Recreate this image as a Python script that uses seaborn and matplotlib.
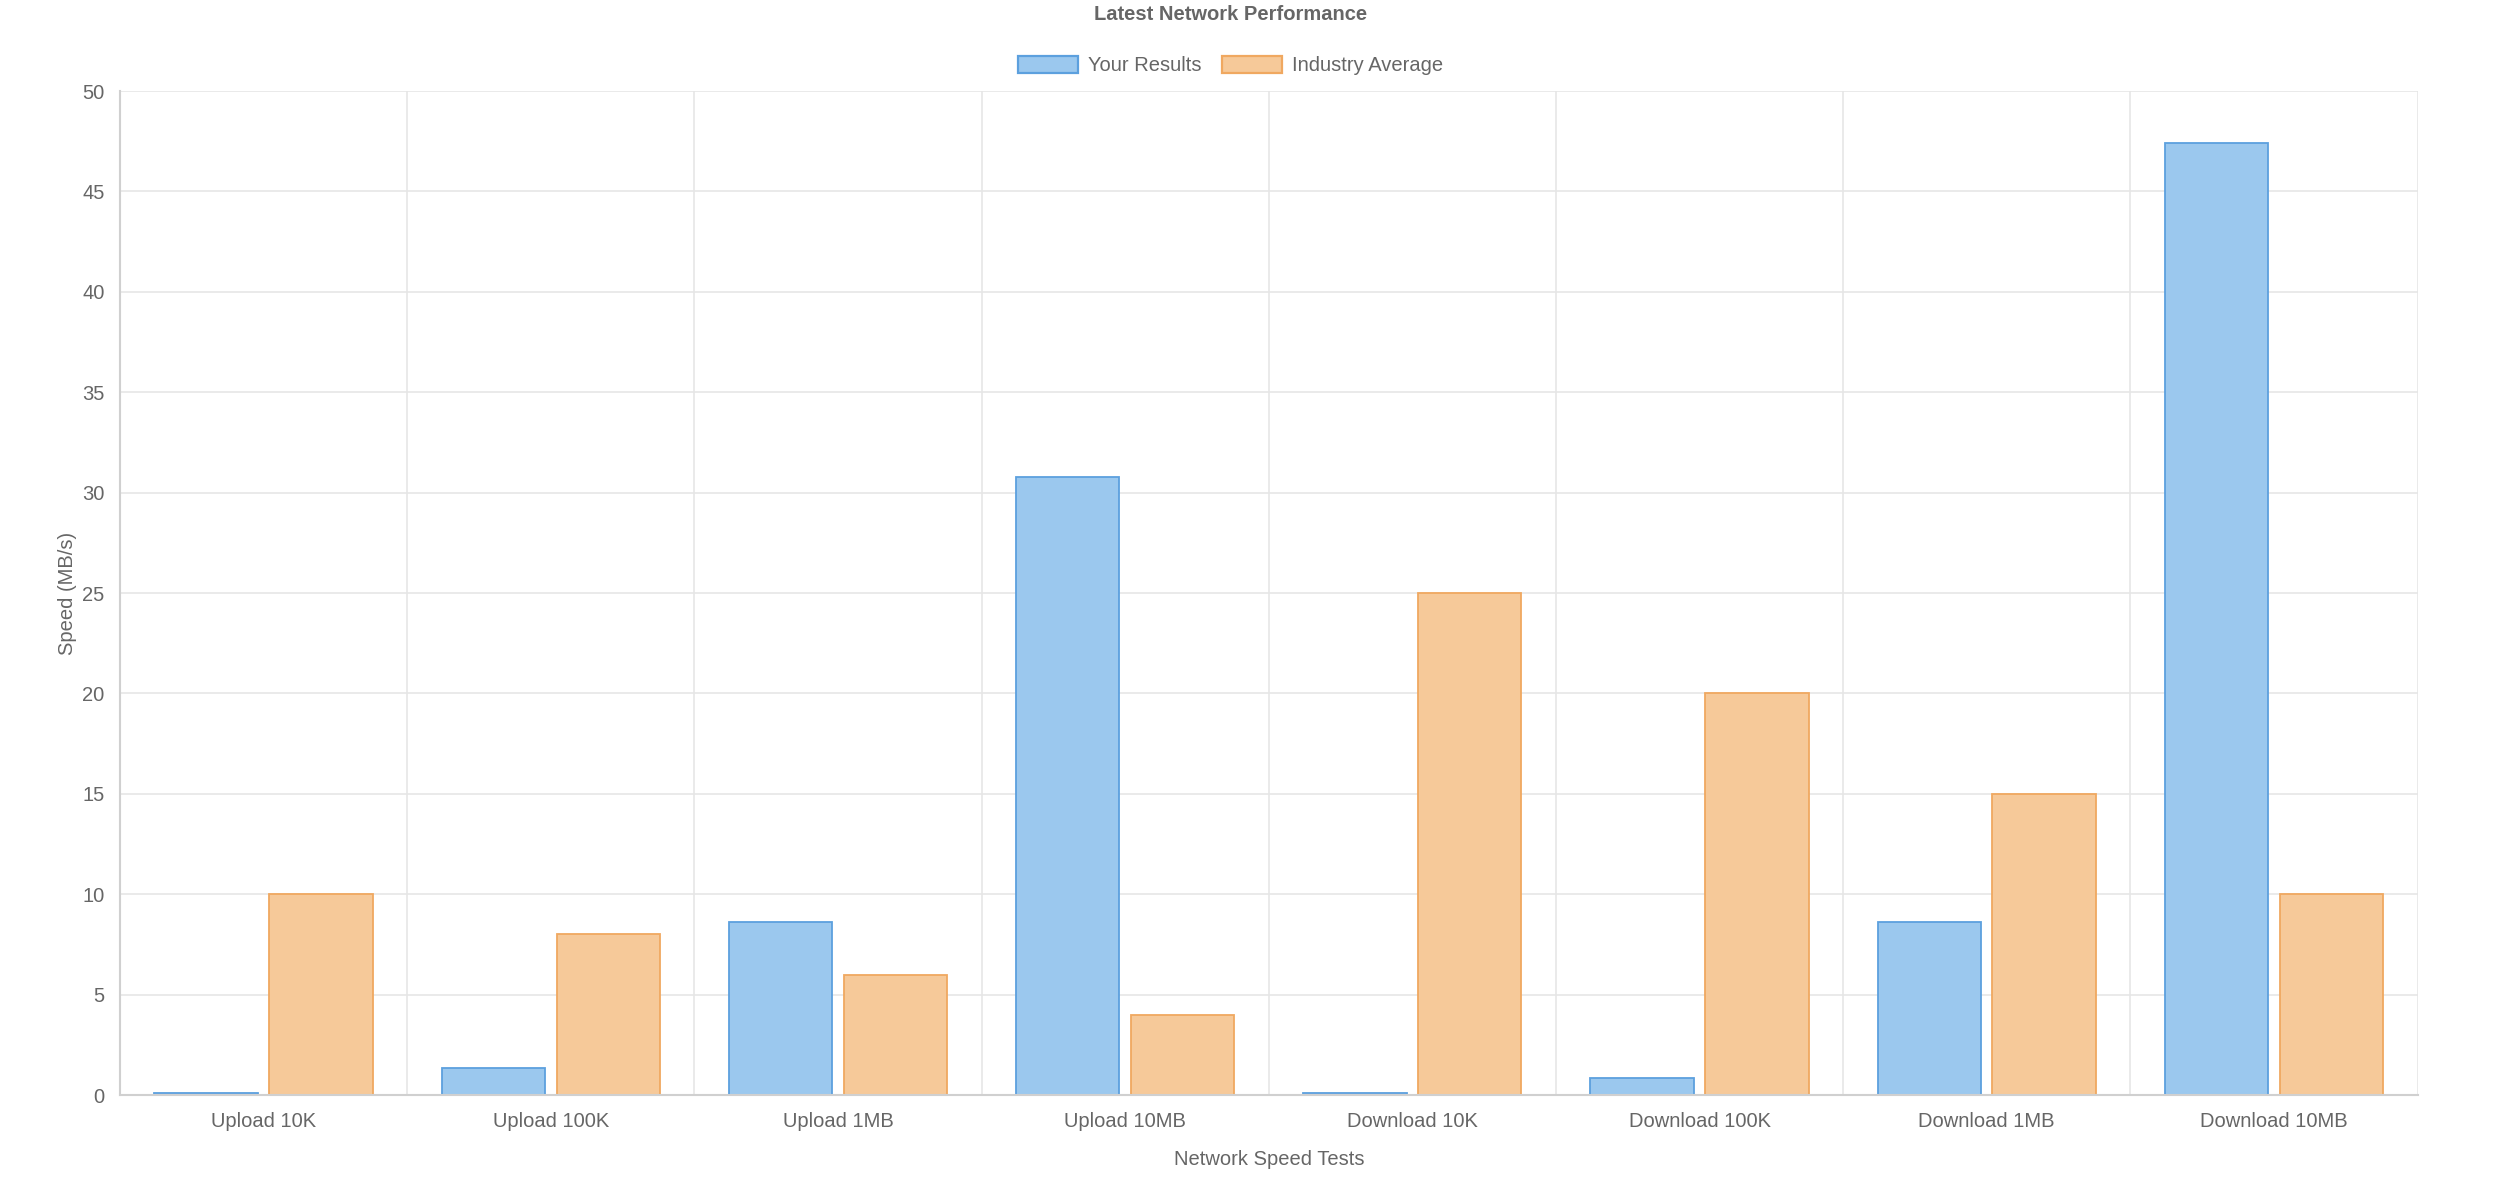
import seaborn as sns
import pandas as pd
import matplotlib.pyplot as plt
from matplotlib.patches import Patch

tests = ["Upload 10K", "Upload 100K", "Upload 1MB", "Upload 10MB",
         "Download 10K", "Download 100K", "Download 1MB", "Download 10MB"]
your_results = [0.1, 1.35, 8.6, 30.8, 0.1, 0.87, 8.6, 47.4]
industry_avg = [10, 8, 6, 4, 25, 20, 15, 10]
series_names = ["Your Results", "Industry Average"]

blue_fill = (155/255, 200/255, 238/255)
blue_edge = (92/255, 160/255, 222/255)
orange_fill = (246/255, 201/255, 153/255)
orange_edge = (240/255, 168/255, 96/255)
text_color = "#666666"
grid_color = "#e6e6e6"

df = pd.DataFrame({
    "test": tests * 2,
    "speed": your_results + industry_avg,
    "series": [series_names[0]] * len(tests) + [series_names[1]] * len(tests),
})

sns.set_style("white")
plt.rcParams['font.family'] = ['Liberation Sans', 'DejaVu Sans']

fig = plt.figure(figsize=(25, 11.9), dpi=100)
ax = fig.add_axes([0.048, 0.0798, 0.919, 0.8437])

sns.barplot(data=df, x="test", y="speed", hue="series", order=tests,
            hue_order=series_names, palette=[blue_fill, orange_fill],
            saturation=1, width=0.8, gap=0.1, linewidth=1.3, ax=ax, legend=False)

for cont, ec in zip(ax.containers, [blue_edge, orange_edge]):
    for bar in cont:
        bar.set_edgecolor(ec)

ax.set_ylim(0, 50)
ax.set_xlim(-0.5, len(tests) - 0.5)
ax.set_yticks(range(0, 51, 5))
ax.set_xticks([i - 0.5 for i in range(len(tests) + 1)], minor=False)
ax.set_xticklabels([])
ax.set_xticks(range(len(tests)), minor=True)
ax.set_xticklabels(tests, minor=True)
ax.tick_params(axis="x", which="minor", length=0, pad=12, labelsize=14.5, labelcolor=text_color)
ax.tick_params(axis="x", which="major", length=10, color=grid_color, width=1.2)
ax.tick_params(axis="y", length=11, color=grid_color, width=1.2, labelsize=14.5,
               labelcolor=text_color, pad=0)

ax.grid(True, axis="both", which="major", color=grid_color, linewidth=1.2)
ax.set_axisbelow(True)
for side in ["top", "right"]:
    ax.spines[side].set_visible(False)
for side in ["left", "bottom"]:
    ax.spines[side].set_color("#d0d0d0")
    ax.spines[side].set_linewidth(1.5)

ax.set_xlabel("Network Speed Tests", fontsize=14.5, color=text_color, labelpad=14)
ax.set_ylabel("Speed (MB/s)", fontsize=14.5, color=text_color, labelpad=4)

fig.text(0.4923, 0.988, "Latest Network Performance", ha="center", va="center",
         fontsize=14.5, fontweight="bold", color=text_color)

handles = [Patch(facecolor=blue_fill, edgecolor=blue_edge, linewidth=1.6),
           Patch(facecolor=orange_fill, edgecolor=orange_edge, linewidth=1.6)]
fig.legend(handles, series_names, loc="center", bbox_to_anchor=(0.4923, 0.945),
           ncol=2, frameon=False, fontsize=14.5, labelcolor=text_color,
           handlelength=3.0, handleheight=0.95, columnspacing=1.0, handletextpad=0.5)

fig.savefig("out.png", dpi=100)
